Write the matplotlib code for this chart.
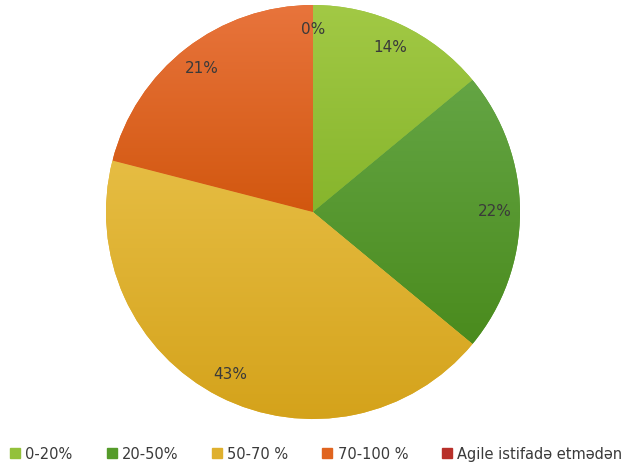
import matplotlib.pyplot as plt
import numpy as np
from matplotlib.lines import Line2D

labels = ["0-20%", "20-50%", "50-70 %", "70-100 %", "Agile istifadə etmədən"]
shares = [14, 22, 43, 21, 0]
# (top colour, bottom colour) for each slice's vertical gradient
top_colors = ["#a2c945", "#64a544", "#e6bd43", "#e8743c", "#c8372f"]
bottom_colors = ["#86b52c", "#4a8b1d", "#d4a21a", "#d2570f", "#b02820"]
legend_colors = ["#93c13a", "#559b2a", "#dfb02e", "#e0641f", "#b8302a"]

fig = plt.figure(figsize=(6.23, 4.69), dpi=100)
r_px = 207
cx, cy = 313, 469 - 212
ax = fig.add_axes([(cx - r_px) / 623, (cy - r_px) / 469, 2 * r_px / 623, 2 * r_px / 469])

wedges, texts, autotexts = ax.pie(
    shares, startangle=90, counterclock=False, colors=legend_colors,
    autopct="%1.0f%%", pctdistance=0.88, radius=1.0,
    textprops=dict(color="#3a3a3a", fontsize=11),
)

# fill each wedge with a vertical gradient clipped to its shape
for w, c0, c1 in zip(wedges, top_colors, bottom_colors):
    if w.theta2 - w.theta1 <= 0:
        continue
    verts = w.get_path().vertices
    y0, y1 = verts[:, 1].min(), verts[:, 1].max()
    x0, x1 = verts[:, 0].min(), verts[:, 0].max()
    a = np.array(plt.matplotlib.colors.to_rgb(c0))
    b = np.array(plt.matplotlib.colors.to_rgb(c1))
    t = np.linspace(0, 1, 256)[:, None]
    grad = (a * (1 - t) + b * t)[:, None, :]
    im = ax.imshow(grad, extent=[x0, x1, y0, y1], aspect="auto", zorder=w.get_zorder() + 0.1,
                   origin="upper", interpolation="bilinear")
    im.set_clip_path(w)
    w.set_edgecolor("none")

for t in autotexts:
    t.set_zorder(5)

ax.set_xlim(-1.0, 1.0)
ax.set_ylim(-1.0, 1.0)
ax.set_aspect("equal")
ax.axis("off")

handles = [Line2D([], [], marker="s", linestyle="none", markersize=7,
                  markerfacecolor=c, markeredgecolor=c) for c in legend_colors]
fig.legend(handles, labels, loc="lower center", ncol=5, frameon=False,
           bbox_to_anchor=(0.507, -0.012), fontsize=10.5, handlelength=0.8,
           handletextpad=0.3, columnspacing=2.27, labelcolor="#3a3a3a")

fig.savefig("out.png", dpi=100)
